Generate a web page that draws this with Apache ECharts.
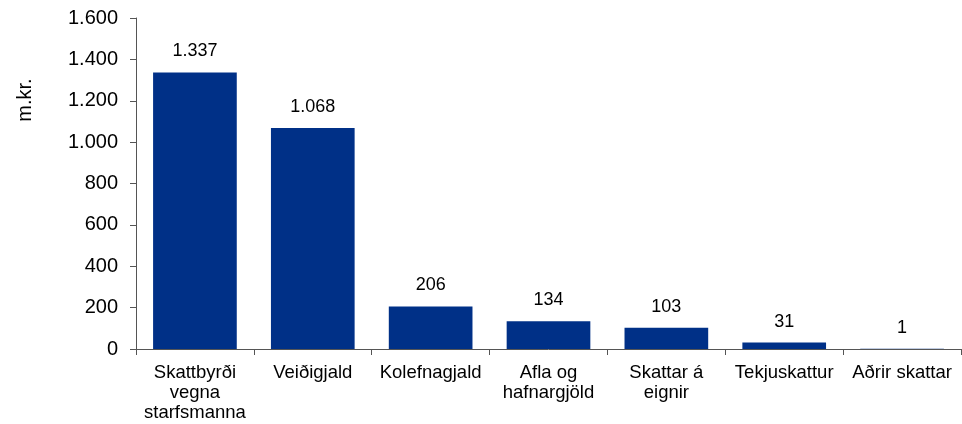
<!DOCTYPE html>
<html>
<head>
<meta charset="utf-8">
<script src="https://cdn.jsdelivr.net/npm/echarts@6/dist/echarts.min.js"></script>
<style>
html,body{margin:0;padding:0;background:#fff;}
#Charts1{width:962px;height:424px;}
</style>
</head>
<body>
<div id="Charts1"></div>
<script>
// gögn
var flokkar = ['Skattbyrði\nvegna\nstarfsmanna', 'Veiðigjald', 'Kolefnagjald', 'Afla og\nhafnargjöld', 'Skattar á\neignir', 'Tekjuskattur', 'Aðrir skattar'];
var upphaedir = [1337, 1068, 206, 134, 103, 31, 1];
var yTicks = [0, 200, 400, 600, 800, 1000, 1200, 1400, 1600];

function punktar(v){ // 1337 -> 1.337
	return String(v).replace(/\B(?=(\d{3})+(?!\d))/g, '.');
}

var letur = 'Liberation Sans, Arial, sans-serif';
var myChart = echarts.init(document.getElementById('Charts1'));
var option = {
	animation: false,
	textStyle: { fontFamily: letur },
	grid: { left: 136, right: 1, top: 18, bottom: 75, containLabel: false },
	graphic: [{
		type: 'text',
		x: 25, y: 100,
		rotation: Math.PI / 2,
		style: { text: 'm.kr.', fontSize: 20, fill: '#000', fontFamily: letur, align: 'center', verticalAlign: 'middle' }
	}],
	xAxis: {
		type: 'category',
		data: flokkar,
		axisLine: { lineStyle: { color: '#555', width: 1 } },
		axisTick: { show: true, length: 6, inside: false, lineStyle: { color: '#555' } },
		axisLabel: { color: '#000', fontSize: 18.5, lineHeight: 20, margin: 14, interval: 0 }
	},
	yAxis: {
		type: 'value',
		min: 0, max: yTicks[yTicks.length - 1], interval: 200,
		axisLine: { show: true, lineStyle: { color: '#555', width: 1 } },
		axisTick: { show: true, length: 6, lineStyle: { color: '#555' } },
		splitLine: { show: false },
		axisLabel: { color: '#000', fontSize: 20, margin: 18, formatter: punktar }
	},
	series: [{
		type: 'bar',
		data: upphaedir,
		barCategoryGap: '29%',
		itemStyle: { color: '#003087' },
		label: {
			show: true, position: 'top', distance: 12,
			color: '#000', fontSize: 18,
			formatter: function (p) { return punktar(p.value); }
		}
	}]
};
myChart.setOption(option);
</script>
</body>
</html>
